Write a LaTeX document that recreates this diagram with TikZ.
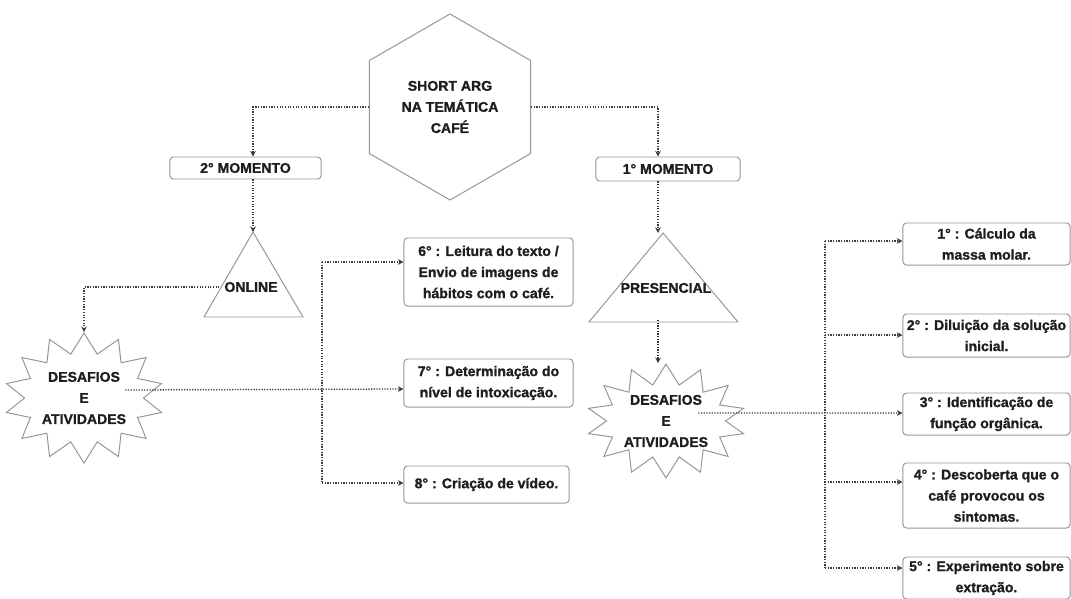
\documentclass[tikz,border=0pt]{standalone}
\definecolor{linegray}{RGB}{60, 60, 60}
\definecolor{edgegray}{RGB}{150, 150, 150}
\definecolor{textdark}{RGB}{30, 30, 30}
\usepackage{fontspec}
\setmainfont[BoldFeatures={FakeBold=1.2}]{Liberation Sans}
\usepackage{tikz}
\usetikzlibrary{shapes.geometric, shapes.symbols, arrows.meta, positioning, calc}

\begin{document}
\begin{tikzpicture}[x=0.025cm, y=-0.025cm,
  font=\fontsize{10}{15}\selectfont\bfseries, text=textdark,
  box/.style={draw=edgegray, line width=0.7pt, rounded corners=2.5pt, align=center, inner sep=2pt},
  hexa/.style={draw=edgegray, line width=0.7pt, regular polygon, regular polygon sides=6, shape border rotate=30, minimum size=4.65cm, inner sep=0pt, align=center},
  burst/.style={draw=edgegray, line width=0.7pt, starburst, random starburst=0, starburst points=14, starburst point height=0.5cm, inner sep=0pt, align=center},
  tri/.style={draw=edgegray, line width=0.7pt},
  trunk/.style={linegray, line width=0.9pt, densely dotted},
  conn/.style={trunk, -{Stealth[length=4pt, width=4pt]}}]
  \useasboundingbox (0,0) rectangle (1071,598);

  % Central hexagon
  \node[hexa] (hex) at (450,107) {SHORT ARG\\NA TEMÁTICA\\CAFÉ};

  % Moments
  \node[box, minimum width=3.775cm, minimum height=0.55cm] (m2) at (245.5,168) {2° MOMENTO};
  \node[box, minimum width=3.6cm, minimum height=0.6cm] (m1) at (668,169) {1° MOMENTO};
  \coordinate (colL) at (253,0);
  \coordinate (colR) at (658,0);
  \draw[conn] (hex.180) -| (colL |- m2.north);
  \draw[conn] (hex.0) -| (colR |- m1.north);

  % Online / presencial triangles
  \coordinate (onlinetop) at (253,232);
  \draw[tri] (onlinetop) -- (303,317) -- (204,317) -- cycle;
  \node (online) at (251,287) {ONLINE};
  \coordinate (presentop) at (663,233);
  \coordinate (presenbase) at (663,320);
  \draw[tri] (presentop) -- (738,322) -- (589,322) -- cycle;
  \node (presencial) at (666,288) {PRESENCIAL};
  \draw[conn] (colL |- m2.south) -- (colL |- onlinetop);
  \draw[conn] (colR |- m1.south) -- (colR |- presentop);

  % Challenges
  \node[burst, minimum width=3.675cm, minimum height=3.25cm] (burstL) at (84,398) {DESAFIOS\\E\\ATIVIDADES};
  \node[burst, minimum width=3.675cm, minimum height=2.825cm] (burstR) at (666,421) {DESAFIOS\\E\\ATIVIDADES};
  \draw[conn] (online.west) -| (burstL.north);
  \draw[conn] (colR |- presenbase) -- (colR |- burstR.north);

  % Online tasks
  \node[box, minimum width=4.225cm, minimum height=1.7cm] (b6) at (488.5,272) {6° : Leitura do texto /\\Envio de imagens de\\hábitos com o café.};
  \node[box, minimum width=4.225cm, minimum height=1.2cm] (b7) at (488.5,383) {7° : Determinação do\\nível de intoxicação.};
  \node[box, minimum width=4.125cm, minimum height=0.925cm] (b8) at (486.5,484.5) {8° : Criação de vídeo.};
  \coordinate (t6) at (322,262);
  \coordinate (t7) at (322,389);
  \coordinate (t8) at (322,483);
  \draw[trunk] (t6) -- (t8);
  \draw[conn] ([shift={(-19,-8)}]burstL.east) -- (t7 -| b7.west);
  \draw[conn] (t6) -- (t6 -| b6.west);
  \draw[conn] (t8) -- (t8 -| b8.west);

  % Presencial tasks
  \node[box, minimum width=4.175cm, minimum height=1.05cm] (b1) at (986.5,244) {1° : Cálculo da\\massa molar.};
  \node[box, minimum width=4.175cm, minimum height=1.075cm] (b2) at (986.5,335.5) {2° : Diluição da solução\\inicial.};
  \node[box, minimum width=4.175cm, minimum height=1.05cm] (b3) at (986.5,414) {3° : Identificação de\\função orgânica.};
  \node[box, minimum width=4.175cm, minimum height=1.625cm] (b4) at (986.5,495.5) {4° : Descoberta que o\\café provocou os\\sintomas.};
  \node[box, minimum width=4.175cm, minimum height=1.05cm] (b5) at (986.5,578) {5° : Experimento sobre\\extração.};
  \coordinate (t1) at (825,241);
  \coordinate (t2) at (825,335);
  \coordinate (t3) at (825,413);
  \coordinate (t4) at (825,482);
  \coordinate (t5) at (825,568);
  \draw[trunk] (t1) -- (t5);
  \draw[conn] ([shift={(-28,-8)}]burstR.east) -- (t3 -| b3.west);
  \foreach \t/\b in {t1/b1, t2/b2, t4/b4, t5/b5}
    \draw[conn] (\t) -- (\t -| \b.west);
\end{tikzpicture}
\end{document}
